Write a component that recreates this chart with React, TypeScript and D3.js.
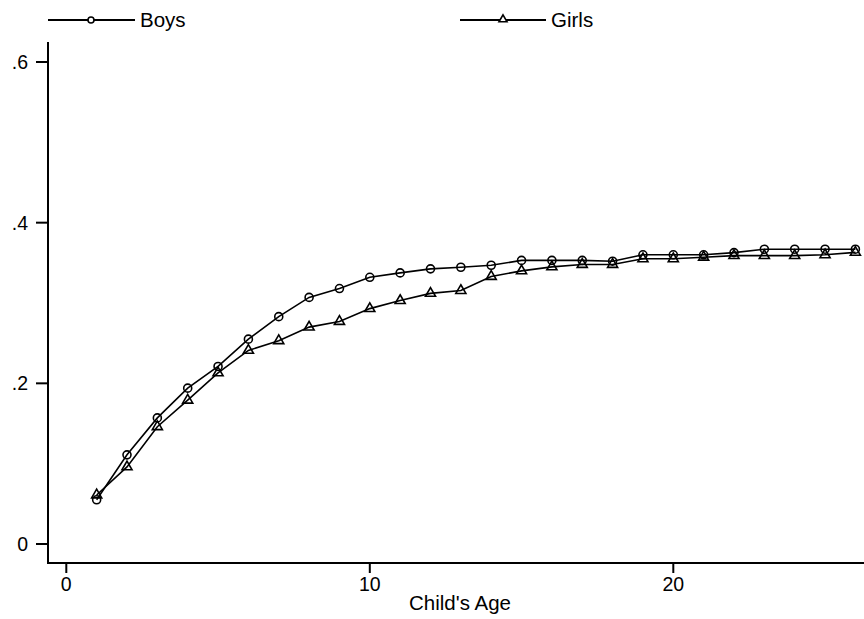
import React from "react";
import * as d3 from "d3";

const ages = [1,2,3,4,5,6,7,8,9,10,11,12,13,14,15,16,17,18,19,20,21,22,23,24,25,26];
const boys = [0.055,0.111,0.157,0.194,0.221,0.255,0.283,0.307,0.318,0.332,0.3375,0.3425,0.3445,0.347,0.353,0.353,0.353,0.352,0.360,0.360,0.360,0.3627,0.367,0.367,0.367,0.367];
const girls = [0.061,0.096,0.146,0.179,0.213,0.241,0.253,0.270,0.277,0.293,0.303,0.312,0.3155,0.333,0.340,0.345,0.348,0.348,0.355,0.355,0.357,0.359,0.359,0.359,0.360,0.363];
const xTicks = [0, 10, 20];
const yTicks = [0, 0.2, 0.4, 0.6];
const yTickLabels = ["0", ".2", ".4", ".6"];
const seriesNames = ["Boys", "Girls"];
const xTitle = "Child's Age";

const W = 864, H = 619;
const FONT = "'Liberation Sans', Arial, sans-serif";

export default function App() {
  const x = d3.scaleLinear().domain([0, 20]).range([66.3, 673.3]);
  const y = d3.scaleLinear().domain([0, 0.6]).range([544, 62]);
  const axisLeft = 48, axisBottom = 563, axisTop = 42, axisRight = 864;

  const line = d3.line<number>().x((_, i) => x(ages[i])).y((v) => y(v));
  const tri = d3.symbol(d3.symbolTriangle, 44)();
  const triSmall = d3.symbol(d3.symbolTriangle, 28)();

  return (
    <div style={{ position: "absolute", left: 0, top: 0 }}>
      <svg width={W} height={H} style={{ display: "block", background: "#fff" }} fontFamily={FONT}>
        <rect x={0} y={0} width={W} height={H} fill="#fff" />
        {/* legend */}
        <g>
          <line x1={48} x2={135} y1={20} y2={20} stroke="#000" strokeWidth={2} />
          <circle cx={91} cy={20} r={3} fill="#fff" stroke="#000" strokeWidth={1.6} />
          <text x={140} y={27} fontSize={20.5}>{seriesNames[0]}</text>
          <line x1={460} x2={546} y1={20} y2={20} stroke="#000" strokeWidth={2} />
          <path d={triSmall} transform="translate(503,19.5)" fill="#fff" stroke="#000" strokeWidth={1.6} />
          <text x={551} y={27} fontSize={20.5}>{seriesNames[1]}</text>
        </g>
        {/* axes */}
        <line x1={axisLeft} x2={axisLeft} y1={axisTop} y2={axisBottom + 1} stroke="#000" strokeWidth={2} />
        <line x1={axisLeft - 1} x2={axisRight} y1={axisBottom} y2={axisBottom} stroke="#000" strokeWidth={2} />
        {yTicks.map((t, i) => (
          <g key={"y" + i}>
            <line x1={36} x2={axisLeft} y1={y(t)} y2={y(t)} stroke="#000" strokeWidth={2} />
            <text x={28} y={y(t) + 7} fontSize={19.5} textAnchor="end">{yTickLabels[i]}</text>
          </g>
        ))}
        {xTicks.map((t, i) => (
          <g key={"x" + i}>
            <line x1={x(t)} x2={x(t)} y1={axisBottom} y2={573} stroke="#000" strokeWidth={2} />
            <text x={x(t)} y={591} fontSize={19.5} textAnchor="middle">{String(t)}</text>
          </g>
        ))}
        <text x={460} y={610} fontSize={20.5} textAnchor="middle">{xTitle}</text>
        {/* series */}
        <path d={line(boys) || ""} fill="none" stroke="#000" strokeWidth={1.6} />
        <path d={line(girls) || ""} fill="none" stroke="#000" strokeWidth={1.6} />
        {boys.map((v, i) => (
          <circle key={"b" + i} cx={x(ages[i])} cy={y(v)} r={4} fill="none" stroke="#000" strokeWidth={1.6} />
        ))}
        {girls.map((v, i) => (
          <path key={"g" + i} d={tri} transform={`translate(${x(ages[i])},${y(v)})`} fill="none" stroke="#000" strokeWidth={1.6} />
        ))}
      </svg>
    </div>
  );
}
